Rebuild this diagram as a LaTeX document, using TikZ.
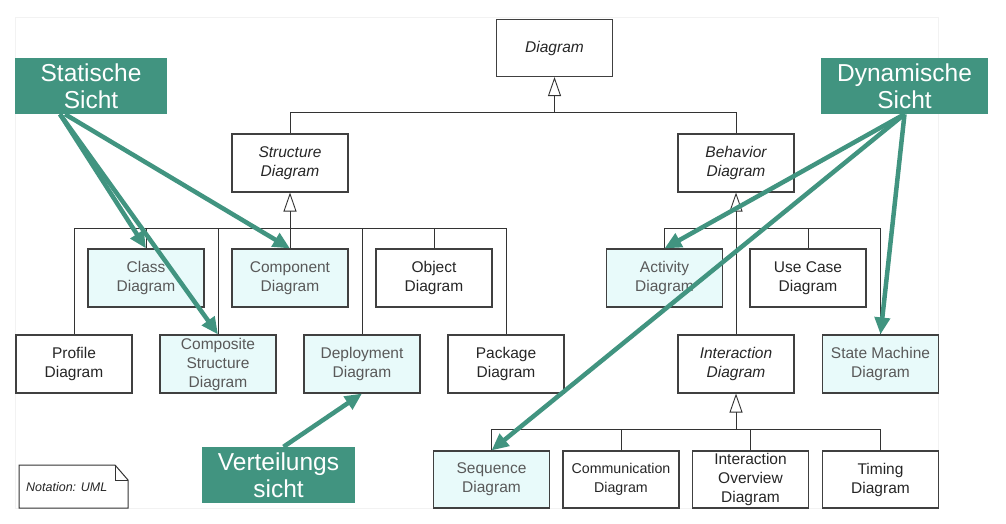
\documentclass[tikz,border=0pt]{standalone}
\usepackage{fontspec}
\setmainfont{Liberation Sans}
\usetikzlibrary{arrows.meta}
\definecolor{viewgreen}{RGB}{65,148,128}
\definecolor{viewfill}{RGB}{232,250,250}

\begin{document}
\begin{tikzpicture}[
  x=1pt,
  y=-1pt,
  uml box/.style={
    draw=black!75,
    line width=1.1pt,
    fill=white,
    text=black!85,
    minimum width=116pt,
    minimum height=58pt,
    inner sep=0pt,
    align=center,
    font=\fontsize{15.5}{19}\selectfont
  },
  abstract box/.style={
    uml box,
    font=\fontsize{15.5}{19}\selectfont\itshape
  },
  view box/.style={
    uml box,
    fill=viewfill,
    text=black!65
  },
  view label/.style={
    fill=viewgreen,
    text=white,
    minimum height=56pt,
    inner sep=0pt,
    align=center,
    font=\fontsize{24.5}{27}\selectfont
  },
  tree line/.style={
    draw=black!80,
    line width=0.9pt
  },
  generalization/.style={
    tree line,
    -{Triangle[open,length=19pt,width=13pt]}
  },
  view arrow/.style={
    draw=viewgreen,
    line width=4.5pt,
    -{Triangle[length=17pt,width=15pt]}
  },
]
\useasboundingbox (0,0) rectangle (1006,524);
\draw[black!5] (15,17) rectangle (938,508);

% abstract diagrams
\node[abstract box, minimum height=57pt] (diagram) at (554.5,48) {Diagram};
\node[abstract box] (structure) at (290,163) {Structure\\Diagram};
\node[abstract box] (behavior) at (736,163) {Behavior\\Diagram};
\node[abstract box] (interaction) at (736,364) {Interaction\\Diagram};

% structure diagrams
\node[view box] (class) at (146,278) {Class\\Diagram};
\node[view box] (component) at (290,278) {Component\\Diagram};
\node[uml box] (object) at (434,278) {Object\\Diagram};
\node[uml box] (profile) at (74,364) {Profile\\Diagram};
\node[view box] (composite) at (218,364) {Composite\\Structure\\Diagram};
\node[view box] (deployment) at (362,364) {Deployment\\Diagram};
\node[uml box] (package) at (506,364) {Package\\Diagram};

% behavior diagrams
\node[view box] (activity) at (664.5,278) {Activity\\Diagram};
\node[uml box] (usecase) at (808,278) {Use Case\\Diagram};
\node[view box] (statemachine) at (880.5,364) {State Machine\\Diagram};
\node[view box, minimum height=57pt] (sequence) at (491.5,479.5) {Sequence\\Diagram};
\node[uml box, minimum height=57pt, font=\fontsize{14.2}{19}\selectfont] (communication) at (621,479.5) {Communication\\Diagram};
\node[uml box, minimum height=57pt] (overview) at (750.5,479.5) {Interaction\\Overview\\Diagram};
\node[uml box, minimum height=57pt] (timing) at (880.5,479.5) {Timing\\Diagram};

% generalization trees
\coordinate (topbus) at (554.5,112);
\coordinate (structbus) at (290,228);
\coordinate (behavbus) at (736,228);
\coordinate (interbus) at (736,429);

\foreach \n in {structure,behavior}
  \draw[tree line] (\n.north) |- (topbus);
\draw[generalization] (topbus) -- (diagram.south);

\foreach \n in {profile,class,composite,component,deployment,object,package}
  \draw[tree line] (\n.north) |- (structbus);
\draw[generalization] (structbus) -- (structure.south);

\foreach \n in {activity,usecase,interaction,statemachine}
  \draw[tree line] (\n.north) |- (behavbus);
\draw[generalization] (behavbus) -- (behavior.south);

\foreach \n in {sequence,communication,overview,timing}
  \draw[tree line] (\n.north) |- (interbus);
\draw[generalization] (interbus) -- (interaction.south);

% note
\draw[black!80, line width=1pt, fill=white]
  (19,465) -- (115,465) -- (128,480) -- (128,508) -- (19,508) -- cycle;
\draw[black!80, line width=1pt] (115,465) -- (115,480) -- (128,480);
\node[anchor=west, inner sep=0pt, text=black!85,
  font=\fontsize{12.5}{14}\selectfont\itshape] (note) at (26,487) {Notation: UML};

% views
\node[view label, minimum width=152pt] (statisch) at (91,86) {Statische\\Sicht};
\node[view label, minimum width=167pt] (dynamisch) at (904.5,86) {Dynamische\\Sicht};
\node[view label, minimum width=153pt] (verteilung) at (278.5,475) {Verteilungs\\sicht};

\draw[view arrow] ([xshift=-31pt]statisch.south) -- (class.north);
\draw[view arrow] ([xshift=-31pt]statisch.south) -- (composite.north);
\draw[view arrow] ([xshift=-26pt]statisch.south) -- (component.north);
\draw[view arrow] (dynamisch.south) -- (activity.north);
\draw[view arrow] (dynamisch.south) -- (sequence.north);
\draw[view arrow] (dynamisch.south) -- (statemachine.north);
\draw[view arrow] ([xshift=5pt]verteilung.north) -- (deployment.south);
\end{tikzpicture}
\end{document}
